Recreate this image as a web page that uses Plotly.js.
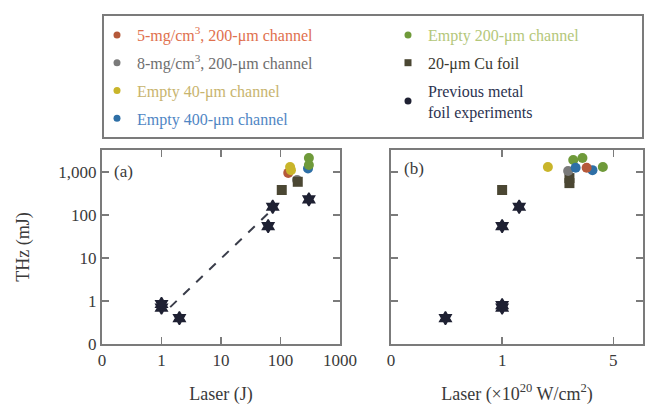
<!DOCTYPE html>
<html>
<head>
<meta charset="utf-8">
<script src="https://cdn.plot.ly/plotly-3.0.1.min.js"></script>
<style>
  html, body { margin: 0; padding: 0; background: #fff; }
  #chart { width: 646px; height: 407px; }
</style>
</head>
<body>
<div id="chart"></div>
<script>
// ---- (a) THz energy vs laser energy (J) ----
const prevEnergyX = [1, 1, 2, 62, 74, 300];
const prevEnergyY = [0.7, 0.85, 0.4, 55, 155, 230];
const cuEnergyX = [105, 195];
const cuEnergyY = [380, 590];
const mg8EnergyX = [190];
const mg8EnergyY = [650];
const mg5EnergyX = [135];
const mg5EnergyY = [950];
const e400EnergyX = [290];
const e400EnergyY = [1200];
const e40EnergyX = [145, 150];
const e40EnergyY = [1300, 1100];
const e200EnergyX = [300, 300];
const e200EnergyY = [2100, 1450];

// dashed scaling line for the metal-foil shots
const fitX = [1.4, 72];
const fitY = [0.72, 132];

// ---- (b) THz energy vs laser intensity (x10^20 W/cm^2) ----
const prevIntX = [0.44, 1, 1, 1, 1.28];
const prevIntY = [0.4, 0.7, 0.8, 55, 155];
const cuIntX = [1, 2.65, 2.65];
const cuIntY = [380, 550, 720];
const e40IntX = [1.94];
const e40IntY = [1300];
const mg8IntX = [2.6];
const mg8IntY = [1050];
const e400IntX = [2.9, 3.7];
const e400IntY = [1250, 1100];
const mg5IntX = [3.4];
const mg5IntY = [1250];
const e200IntX = [2.8, 3.2, 4.3];
const e200IntY = [1900, 2100, 1300];

// axis ticks
const thzTicks = [0.1, 1, 10, 100, 1000];
const thzTickText = ['0', '1', '10', '100', '1,000'];
const energyTicks = [0.1, 1, 10, 100, 1000];
const energyTickText = ['0', '1', '10', '100', '1000'];
const intTicks = [0.2, 1, 5];
const intTickText = ['0', '1', '5'];

// series appearance
const series = {
  mg5:  { name: '5-mg/cm<sup>3</sup>, 200-μm channel', marker: '#b5593a', text: '#e0704e', symbol: 'circle' },
  mg8:  { name: '8-mg/cm<sup>3</sup>, 200-μm channel', marker: '#7a7a7a', text: '#6e6e6e', symbol: 'circle' },
  e40:  { name: 'Empty 40-μm channel', marker: '#c9b52a', text: '#c8b46e', symbol: 'circle' },
  e400: { name: 'Empty 400-μm channel', marker: '#2e6fa6', text: '#4f86c4', symbol: 'circle' },
  e200: { name: 'Empty 200-μm channel', marker: '#6f9a3a', text: '#b4c77a', symbol: 'circle' },
  cu:   { name: '20-μm Cu foil', marker: '#4b4733', text: '#3a3a30', symbol: 'square' },
  prev: { name: 'Previous metal<br>foil experiments', marker: '#1f2133', text: '#2c3350', symbol: 'hexagram' }
};

function pts(key, x, y, panel) {
  const s = series[key];
  return {
    type: 'scatter', mode: 'markers', x: x, y: y,
    xaxis: panel === 1 ? 'x' : 'x2', yaxis: panel === 1 ? 'y' : 'y2',
    showlegend: false, hoverinfo: 'x+y',
    marker: { color: s.marker, symbol: s.symbol, size: 10,
              line: { width: key === 'prev' ? 1.5 : 0, color: s.marker } }
  };
}

function legendEntry(key, legendId) {
  const s = series[key];
  return {
    type: 'scatter', mode: 'markers', x: [null], y: [null],
    legend: legendId, legendgroup: key, showlegend: true,
    name: '<span style="color:' + s.text + '">' + s.name + '</span>',
    marker: { color: s.marker, symbol: s.symbol === 'hexagram' ? 'circle' : s.symbol, size: 7 }
  };
}

const data = [
  {
    type: 'scatter', mode: 'lines', x: fitX, y: fitY, xaxis: 'x', yaxis: 'y',
    showlegend: false, hoverinfo: 'skip',
    line: { color: '#3a3d4a', width: 2, dash: 'dash' }
  },
  pts('mg8', mg8EnergyX, mg8EnergyY, 1),
  pts('mg5', mg5EnergyX, mg5EnergyY, 1),
  pts('e400', e400EnergyX, e400EnergyY, 1),
  pts('cu', cuEnergyX, cuEnergyY, 1),
  pts('e40', e40EnergyX, e40EnergyY, 1),
  pts('e200', e200EnergyX, e200EnergyY, 1),
  pts('prev', prevEnergyX, prevEnergyY, 1),

  pts('prev', prevIntX, prevIntY, 2),
  pts('cu', cuIntX, cuIntY, 2),
  pts('e40', e40IntX, e40IntY, 2),
  pts('mg8', mg8IntX, mg8IntY, 2),
  pts('e200', e200IntX, e200IntY, 2),
  pts('e400', e400IntX, e400IntY, 2),
  pts('mg5', mg5IntX, mg5IntY, 2),

  legendEntry('mg5', 'legend'),
  legendEntry('mg8', 'legend'),
  legendEntry('e40', 'legend'),
  legendEntry('e400', 'legend'),
  legendEntry('e200', 'legend2'),
  legendEntry('cu', 'legend2'),
  legendEntry('prev', 'legend2')
];

const W = 646, H = 407;
const px = v => v / W;
const py = v => 1 - v / H;

const axisLine = {
  showline: true, mirror: 'ticks', linecolor: '#7b7b7b', linewidth: 2,
  ticks: 'inside', ticklen: 7, tickwidth: 1.5, tickcolor: '#7b7b7b',
  showgrid: false, zeroline: false,
  tickfont: { family: 'Liberation Serif', size: 17, color: '#3a3a3a' }
};

const titleFont = { family: 'Liberation Serif', size: 18, color: '#3a3a3a' };
const legendFont = { family: 'Liberation Serif', size: 16, color: '#333' };

const layout = {
  width: W, height: H,
  margin: { l: 0, r: 0, t: 0, b: 0 },
  paper_bgcolor: '#fff', plot_bgcolor: '#fff',
  font: { family: 'Liberation Serif', size: 17, color: '#3a3a3a' },
  xaxis: Object.assign({}, axisLine, {
    type: 'log', range: [-1, 3], domain: [px(102), px(340)], anchor: 'y',
    tickmode: 'array', tickvals: energyTicks, ticktext: energyTickText,
    title: { text: 'Laser (J)', font: titleFont, standoff: 18 }
  }),
  yaxis: Object.assign({}, axisLine, {
    type: 'log', range: [-1, 3.51], domain: [1 - 344 / H, 1 - 150 / H], anchor: 'x',
    tickmode: 'array', tickvals: thzTicks, ticktext: thzTickText,
    title: { text: 'THz (mJ)', font: titleFont, standoff: 24 }
  }),
  xaxis2: Object.assign({}, axisLine, {
    type: 'log', range: [-0.699, 0.886], domain: [px(391), px(643)], anchor: 'y2',
    tickmode: 'array', tickvals: intTicks, ticktext: intTickText,
    title: { text: 'Laser (×10<sup>20</sup> W/cm<sup>2</sup>)', font: titleFont, standoff: 18 }
  }),
  yaxis2: Object.assign({}, axisLine, {
    type: 'log', range: [-1, 3.51], domain: [1 - 344 / H, 1 - 150 / H], anchor: 'x2',
    tickmode: 'array', tickvals: thzTicks, ticktext: thzTickText,
    showticklabels: false
  }),
  legend: {
    x: px(97), y: py(18), xanchor: 'left', yanchor: 'top',
    bgcolor: 'rgba(0,0,0,0)', borderwidth: 0, font: legendFont,
    itemwidth: 30, tracegroupgap: 4, traceorder: 'grouped'
  },
  legend2: {
    x: px(388), y: py(18), xanchor: 'left', yanchor: 'top',
    bgcolor: 'rgba(0,0,0,0)', borderwidth: 0, font: legendFont,
    itemwidth: 30, tracegroupgap: 4, traceorder: 'grouped'
  },
  shapes: [
    { type: 'rect', xref: 'paper', yref: 'paper',
      x0: px(103), x1: px(643), y0: py(138), y1: py(15),
      line: { color: '#7b7b7b', width: 2 }, fillcolor: 'rgba(0,0,0,0)' }
  ],
  annotations: [
    { text: '(a)', xref: 'paper', yref: 'paper', x: px(112), y: py(172),
      xanchor: 'left', yanchor: 'middle', showarrow: false,
      font: { family: 'Liberation Serif', size: 17, color: '#3a3a3a' } },
    { text: '(b)', xref: 'paper', yref: 'paper', x: px(402), y: py(169),
      xanchor: 'left', yanchor: 'middle', showarrow: false,
      font: { family: 'Liberation Serif', size: 17, color: '#3a3a3a' } }
  ]
};

Plotly.newPlot('chart', data, layout, { displayModeBar: false, staticPlot: true });
</script>
</body>
</html>
